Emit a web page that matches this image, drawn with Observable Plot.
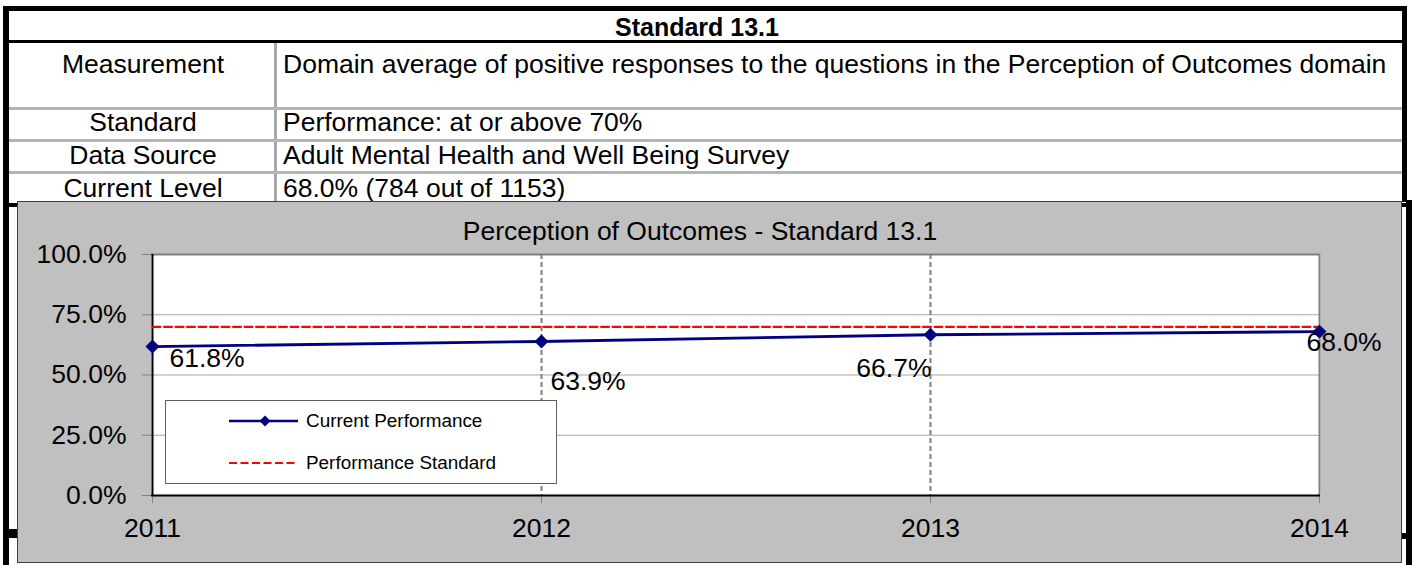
<!DOCTYPE html>
<html>
<head>
<meta charset="utf-8">
<script src="https://cdn.jsdelivr.net/npm/d3@7"></script>
<script src="https://cdn.jsdelivr.net/npm/@observablehq/plot@0.6"></script>
<style>
  html, body { margin: 0; padding: 0; background: #fff; }
  body { width: 1416px; height: 565px; overflow: hidden; position: relative;
         font-family: "Liberation Sans", Arial, sans-serif; color: #000; }
  .abs { position: absolute; }
  .txt { position: absolute; white-space: nowrap; }
</style>
</head>
<body>
<script>
// ---------- data ----------
const tableTitle = "Standard 13.1";
const rowLabels = ["Measurement", "Standard", "Data Source", "Current Level"];
const rowValues = [
  "Domain average of positive responses to the questions in the Perception of Outcomes domain",
  "Performance: at or above 70%",
  "Adult Mental Health and Well Being Survey",
  "68.0% (784 out of 1153)"
];
const chartTitle = "Perception of Outcomes - Standard 13.1";
const years = ["2011", "2012", "2013", "2014"];
const currentPerformance = [61.8, 63.9, 66.7, 68.0];
const performanceStandard = [70, 70, 70, 70];
const yTicks = [0, 25, 50, 75, 100];
const seriesNames = ["Current Performance", "Performance Standard"];

// ---------- helpers ----------
const root = document.body;
function box(l, t, w, h, css) {
  const d = document.createElement("div");
  d.className = "abs";
  Object.assign(d.style, {left: l + "px", top: t + "px", width: w + "px", height: h + "px"}, css || {});
  root.appendChild(d);
  return d;
}
function text(str, x, baseline, fs, opts = {}) {
  const d = document.createElement("div");
  d.className = "txt";
  d.textContent = str;
  const top = baseline - 0.8465 * fs;
  Object.assign(d.style, {top: top + "px", fontSize: fs + "px", lineHeight: fs + "px",
    fontWeight: opts.bold ? "bold" : "normal"});
  if (opts.center) { d.style.left = (x - 600) + "px"; d.style.width = "1200px"; d.style.textAlign = "center"; }
  else d.style.left = x + "px";
  if (opts.z) d.style.zIndex = opts.z;
  root.appendChild(d);
  return d;
}

// ---------- table ----------
box(3, 6, 6, 559, {background: "#000"});
box(3, 6, 1404, 5, {background: "#000"});
box(1402, 6, 5, 196, {background: "#000"});
box(1406, 200, 6, 365, {background: "#000"});
box(9, 40, 1393, 3, {background: "#000"});
box(9, 203, 9, 4, {background: "#000"});
box(1401, 203, 6, 4, {background: "#000"});
box(9, 529, 9, 9, {background: "#000"});
box(1401, 533, 6, 6, {background: "#000"});
box(274, 43, 3, 160, {background: "#a8a8a8"});
[107, 139, 171].forEach(y => box(9, y, 1393, 3, {background: "#b4b4b4"}));

const FS = 26.5;
text(tableTitle, 697, 36, 25, {bold: true, center: true});
const baselines = [73, 131.5, 164, 197.5];
rowLabels.forEach((s, i) => text(s, 143, baselines[i], FS, {center: true}));
rowValues.forEach((s, i) => text(s, 283, baselines[i], FS));

// ---------- chart box ----------
box(17, 201, 1385, 362, {background: "#c0c0c0", border: "1px solid #404040", boxSizing: "border-box", zIndex: 2});
text(chartTitle, 700, 240, FS, {center: true, z: 3});

const data = years.map((y, i) => ({year: y, cur: currentPerformance[i], std: performanceStandard[i]}));
const fmt = d => d.toFixed(1) + "%";

const plot = Plot.plot({
  width: 1385, height: 362,
  marginLeft: 134, marginRight: 82, marginTop: 53, marginBottom: 68,
  style: {background: "transparent", fontFamily: "'Liberation Sans', Arial, sans-serif", fontSize: FS + "px", color: "#000", overflow: "visible"},
  x: {type: "point", domain: years, padding: 0},
  y: {domain: [0, 100]},
  marks: [
    Plot.frame({fill: "white", stroke: null}),
    Plot.ruleY([25, 50, 75], {stroke: "#a6a6a6", strokeWidth: 1}),
    Plot.ruleX(years.slice(1, 3), {stroke: "#808080", strokeWidth: 2, strokeDasharray: "5,3"}),
    Plot.ruleY([100], {stroke: "#808080", strokeWidth: 2}),
    Plot.ruleX([years[3]], {stroke: "#808080", strokeWidth: 2}),
    Plot.axisY({ticks: yTicks, tickSize: 9, tickPadding: 16, tickFormat: fmt, stroke: "#7f7f7f", fill: "#000", label: null}),
    Plot.axisX({tickSize: 8, tickPadding: 15, stroke: "#7f7f7f", fill: "#000", label: null}),
    Plot.ruleX([years[0]], {stroke: "#000", strokeWidth: 2}),
    Plot.ruleY([0], {stroke: "#000", strokeWidth: 2}),
    Plot.line(data, {x: "year", y: "std", stroke: "#ff0000", strokeWidth: 2.2, strokeDasharray: "8,3.5"}),
    Plot.line(data, {x: "year", y: "cur", stroke: "#000080", strokeWidth: 2.8}),
    Plot.dot(data, {x: "year", y: "cur", symbol: "diamond2", r: 6.3, fill: "#000080", stroke: null}),
    Plot.text(data.filter((d, i) => i === 0), {x: "year", y: "cur", text: d => fmt(d.cur), textAnchor: "start", dx: 17, dy: 12, fill: "#000"}),
    Plot.text(data.filter((d, i) => i === 1), {x: "year", y: "cur", text: d => fmt(d.cur), textAnchor: "start", dx: 9, dy: 40, fill: "#000"}),
    Plot.text(data.filter((d, i) => i === 2), {x: "year", y: "cur", text: d => fmt(d.cur), textAnchor: "end", dx: 1, dy: 34, fill: "#000"}),
    Plot.text(data.filter((d, i) => i === 3), {x: "year", y: "cur", text: d => fmt(d.cur), textAnchor: "start", dx: -13, dy: 11, fill: "#000"})
  ]
});
Object.assign(plot.style, {position: "absolute", left: "17px", top: "201px", zIndex: 3});
root.appendChild(plot);

// ---------- legend ----------
const leg = box(165, 400, 392, 84, {background: "#fff", border: "1px solid #606060", boxSizing: "border-box", zIndex: 4});
const ns = "http://www.w3.org/2000/svg";
const sw = document.createElementNS(ns, "svg");
sw.setAttribute("width", 390); sw.setAttribute("height", 82);
sw.style.position = "absolute"; sw.style.left = "0px"; sw.style.top = "0px";
sw.innerHTML = `
  <line x1="63" x2="132" y1="20" y2="20" stroke="#000080" stroke-width="2.5"/>
  <path d="M99,14.5 L104.5,20 L99,25.5 L93.5,20 Z" fill="#000080"/>
  <line x1="63" x2="132" y1="62" y2="62" stroke="#ff0000" stroke-width="2" stroke-dasharray="8,3.5"/>`;
leg.appendChild(sw);
[27, 69].forEach((b, i) => {
  const t = text(seriesNames[i], 140, b, 18.9, {z: 5});
  leg.appendChild(t);
});
</script>
</body>
</html>
